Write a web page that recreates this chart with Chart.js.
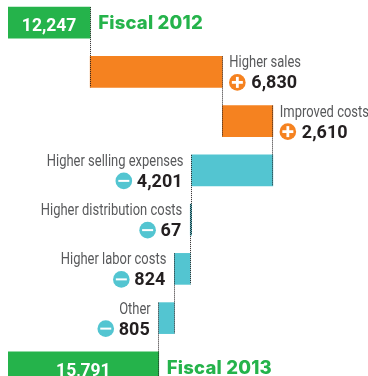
<!DOCTYPE html>
<html>
<head>
<meta charset="utf-8">
<title>Fiscal 2012 to Fiscal 2013</title>
<script src="https://cdn.jsdelivr.net/npm/chart.js@4"></script>
<style>
    html, body { margin: 0; padding: 0; background: #fff; overflow: hidden; }
    #frame { position: relative; width: 368px; height: 376px; overflow: hidden; }
    #bridge { position: absolute; left: 0; top: -2px; }
</style>
</head>
<body>
<div id="frame"><canvas id="bridge" width="368" height="394"></canvas></div>
<script>
const categories = ['Fiscal 2012', 'Higher sales', 'Improved costs', 'Higher selling expenses',
    'Higher distribution costs', 'Higher labor costs', 'Other', 'Fiscal 2013'];
const changes = [null, 6830, 2610, -4201, -67, -824, -805, null];
const totals = [12247, null, null, null, null, null, null, 15791];

const GREEN = '#25b34b';
const ORANGE = '#f58220';
const TEAL = '#53c5d1';
const LABEL_FONT = '16.5px Roboto, sans-serif';
const LABEL_SQUEEZE = 0.785;
const VALUE_FONT = 'bold 18px Roboto, sans-serif';
const TOTAL_FONT = 'bold 17.5px Roboto, sans-serif';
const HEAD_FONT = '800 18.5px Inter, sans-serif';

// Floating bars: totals start at zero, changes run on from the previous level
let level = 0;
const ranges = categories.map((c, i) => {
    if (totals[i] !== null) {
        level = totals[i];
        return [0, totals[i]];
    }
    const start = level;
    level += changes[i];
    return [start, level];
});
const barColors = categories.map((c, i) => {
    if (totals[i] !== null) return GREEN;
    return changes[i] > 0 ? ORANGE : TEAL;
});

function fmt(v) {
    return Math.abs(v).toLocaleString('en-US');
}

// Round plus / minus badge in front of each change value
function drawBadge(ctx, x, y, color, plus) {
    ctx.fillStyle = color;
    ctx.beginPath();
    ctx.arc(x, y, 8.3, 0, Math.PI * 2);
    ctx.fill();
    ctx.fillStyle = '#fff';
    if (plus) {
        ctx.fillRect(x - 5.5, y - 1.4, 11, 2.8);
        ctx.fillRect(x - 1.4, y - 5.5, 2.8, 11);
    } else {
        ctx.fillRect(x - 5.5, y - 1, 11, 2);
    }
}

// No narrow face is installed, so the captions are squeezed horizontally
function drawCaption(ctx, text, x, y, align) {
    ctx.save();
    ctx.translate(x, y);
    ctx.scale(LABEL_SQUEEZE, 1);
    ctx.font = LABEL_FONT;
    ctx.fillStyle = '#58595b';
    ctx.textAlign = align;
    ctx.fillText(text, 0, 0);
    ctx.restore();
}

const connectors = {
    id: 'connectors',
    afterDatasetsDraw(chart) {
        const { ctx, scales } = chart;
        const bars = chart.getDatasetMeta(0).data;
        ctx.save();
        ctx.strokeStyle = '#231f20';
        ctx.lineWidth = 1;
        ctx.setLineDash([1, 1]);
        for (let i = 0; i < bars.length - 1; i++) {
            const x = Math.floor(scales.x.getPixelForValue(ranges[i][1])) + 0.5;
            ctx.beginPath();
            ctx.moveTo(x, bars[i].y - 15.5);
            ctx.lineTo(x, bars[i + 1].y + 15.5);
            ctx.stroke();
        }
        ctx.restore();
    }
};

const barLabels = {
    id: 'barLabels',
    afterDraw(chart) {
        const { ctx, scales } = chart;
        const bars = chart.getDatasetMeta(0).data;
        ctx.save();
        ctx.textBaseline = 'alphabetic';
        bars.forEach((bar, i) => {
            if (totals[i] !== null) {
                // Value inside the green bar, year beside it
                const left = scales.x.left;
                const right = scales.x.getPixelForValue(totals[i]);
                ctx.font = TOTAL_FONT;
                ctx.fillStyle = '#fff';
                ctx.textAlign = 'center';
                ctx.fillText(fmt(totals[i]), (left + right) / 2, bar.y + 8.5);
                ctx.font = HEAD_FONT;
                ctx.letterSpacing = '0.2px';
                ctx.fillStyle = GREEN;
                ctx.textAlign = 'left';
                ctx.fillText(categories[i], right + 8, bar.y + 6.5);
                ctx.letterSpacing = '0px';
                return;
            }
            const up = changes[i] > 0;
            const edge = scales.x.getPixelForValue(up ? ranges[i][1] : Math.min(...ranges[i]));
            const text = fmt(changes[i]);
            ctx.font = VALUE_FONT;
            const w = ctx.measureText(text).width;
            ctx.fillStyle = '#231f20';
            if (up) {
                ctx.textAlign = 'left';
                ctx.fillText(text, edge + 29, bar.y + 16.5);
                drawBadge(ctx, edge + 15, bar.y + 10.5, ORANGE, true);
                drawCaption(ctx, categories[i], edge + 7, bar.y - 4.5, 'left');
            } else {
                ctx.textAlign = 'right';
                ctx.fillText(text, edge - 9, bar.y + 16.5);
                drawBadge(ctx, edge - 9 - w - 13, bar.y + 10.5, TEAL, false);
                drawCaption(ctx, categories[i], edge - 8, bar.y - 4.5, 'right');
            }
        });
        ctx.restore();
    }
};

new Chart(document.getElementById('bridge'), {
    type: 'bar',
    data: {
        labels: categories,
        datasets: [{
            data: ranges,
            backgroundColor: barColors,
            borderWidth: 0,
            barThickness: 31
        }]
    },
    options: {
        indexAxis: 'y',
        responsive: false,
        animation: false,
        layout: { padding: { left: 8, right: 8, top: 0, bottom: 0 } },
        plugins: {
            legend: { display: false },
            tooltip: { enabled: false }
        },
        scales: {
            x: { display: false, min: 8000, max: 26191 },
            y: { display: false }
        }
    },
    plugins: [connectors, barLabels]
});
</script>
</body>
</html>
